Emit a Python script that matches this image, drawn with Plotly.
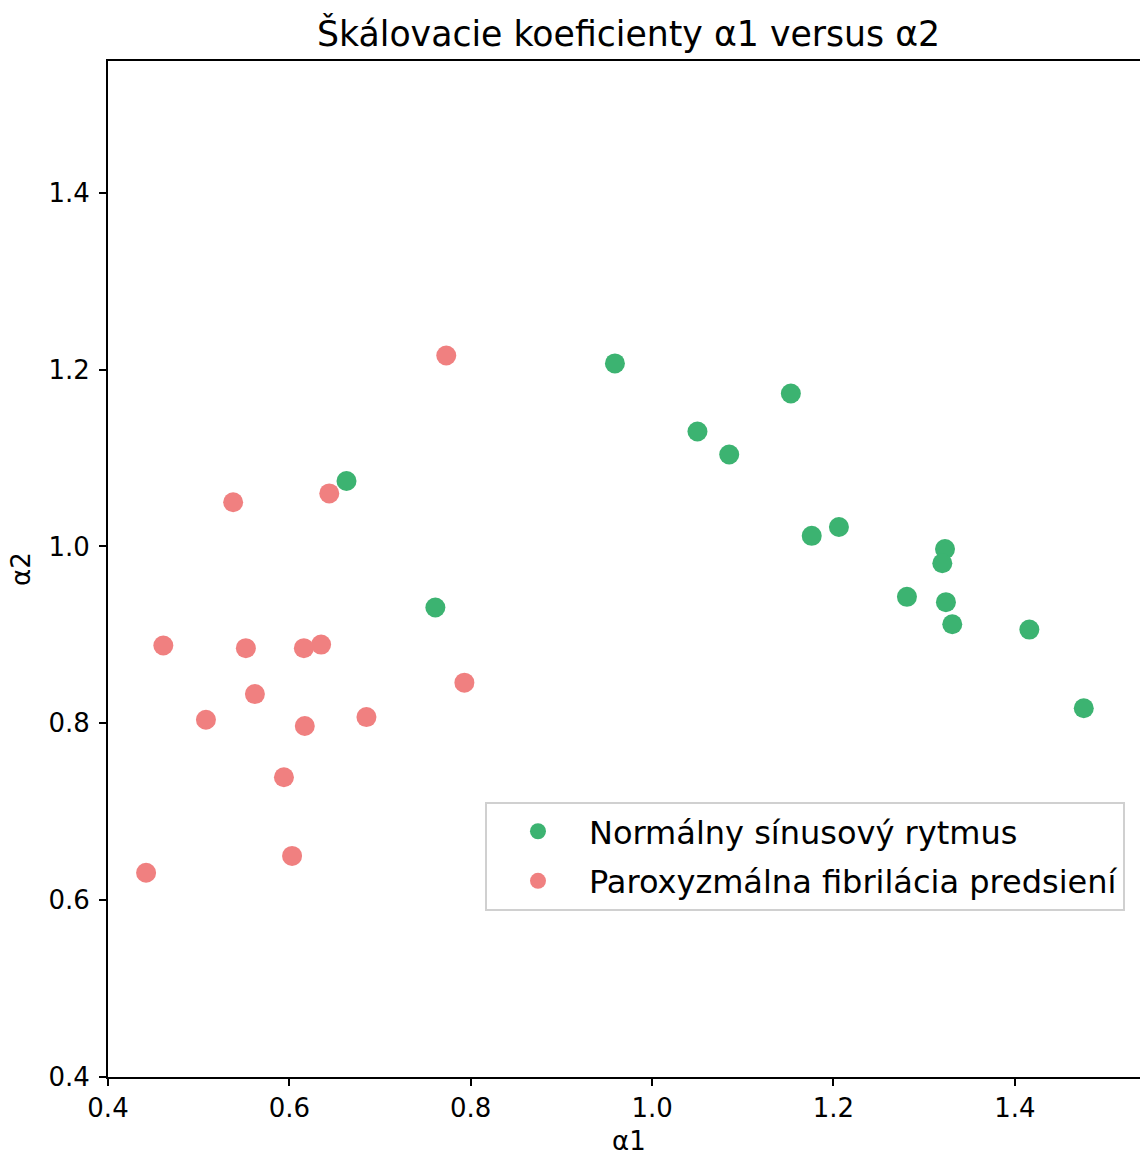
import plotly.graph_objects as go

# Scaling exponents (DFA) for two groups of recordings
nsr_alpha1 = [0.959, 1.153, 1.050, 1.085, 0.663, 1.206, 1.176, 1.323, 1.320, 0.761,
              1.281, 1.324, 1.331, 1.416, 1.476]
nsr_alpha2 = [1.207, 1.173, 1.130, 1.104, 1.074, 1.022, 1.012, 0.997, 0.981, 0.931,
              0.943, 0.937, 0.912, 0.906, 0.817]

paf_alpha1 = [0.773, 0.538, 0.644, 0.461, 0.552, 0.616, 0.635, 0.562, 0.793, 0.508,
              0.617, 0.685, 0.594, 0.603, 0.442]
paf_alpha2 = [1.216, 1.050, 1.060, 0.888, 0.885, 0.885, 0.889, 0.833, 0.846, 0.804,
              0.797, 0.807, 0.739, 0.650, 0.631]

series_names = ["Normálny sínusový rytmus", "Paroxyzmálna fibrilácia predsiení"]
series_colors = ["#3CB371", "#F08080"]

x_ticks = [0.4, 0.6, 0.8, 1.0, 1.2, 1.4]
y_ticks = [0.4, 0.6, 0.8, 1.0, 1.2, 1.4]

FONT = "DejaVu Sans"
TICK_SIZE = 26

fig = go.Figure()
for i, (name, color, xs, ys) in enumerate(zip(series_names, series_colors,
                                              [nsr_alpha1, paf_alpha1],
                                              [nsr_alpha2, paf_alpha2])):
    fig.add_trace(go.Scatter(
        x=xs, y=ys, mode="markers", name=name, legendgroup=f"g{i}",
        marker=dict(color=color, size=20, line=dict(width=0)),
    ))

fig.update_layout(
    width=1140, height=1155,
    margin=dict(l=108, r=0, t=61, b=78),
    paper_bgcolor="white", plot_bgcolor="white",
    font=dict(family=FONT, size=TICK_SIZE, color="black"),
    showlegend=True,
    legend=dict(
        x=0.3653, y=0.2707, xanchor="left", yanchor="top",
        bgcolor="white", bordercolor="#d0d0d0", borderwidth=2,
        font=dict(family=FONT, size=32, color="black"),
        itemsizing="trace", itemwidth=92, tracegroupgap=5,
    ),
    annotations=[
        dict(text="Škálovacie koeficienty α1 versus α2", xref="paper", yref="paper",
             x=0.5048, y=1, xanchor="center", yanchor="bottom", yshift=5,
             showarrow=False, font=dict(family=FONT, size=34.7, color="black")),
        dict(text="α1", xref="paper", yref="paper", x=0.5048, y=0,
             xanchor="center", yanchor="top", yshift=-47,
             showarrow=False, font=dict(family=FONT, size=TICK_SIZE, color="black")),
        dict(text="α2", xref="paper", yref="paper", x=0, y=0.5,
             xanchor="right", yanchor="middle", xshift=-70, textangle=-90,
             showarrow=False, font=dict(family=FONT, size=TICK_SIZE, color="black")),
    ],
)

fig.update_xaxes(
    range=[0.4, 1.538], tickvals=x_ticks, ticktext=[f"{v:.1f}" for v in x_ticks],
    showgrid=False, zeroline=False,
    showline=True, linecolor="black", linewidth=2, mirror=True,
    ticks="outside", ticklen=7, tickwidth=2, tickcolor="black",
    tickfont=dict(family=FONT, size=TICK_SIZE, color="black"),
)
fig.update_yaxes(
    range=[0.4, 1.549], tickvals=y_ticks, ticktext=[f"{v:.1f}" for v in y_ticks],
    showgrid=False, zeroline=False,
    showline=True, linecolor="black", linewidth=2, mirror=False,
    ticks="outside", ticklen=7, tickwidth=2, tickcolor="black",
    ticklabelstandoff=4,
    tickfont=dict(family=FONT, size=TICK_SIZE, color="black"),
)

fig.write_html("out.html")
